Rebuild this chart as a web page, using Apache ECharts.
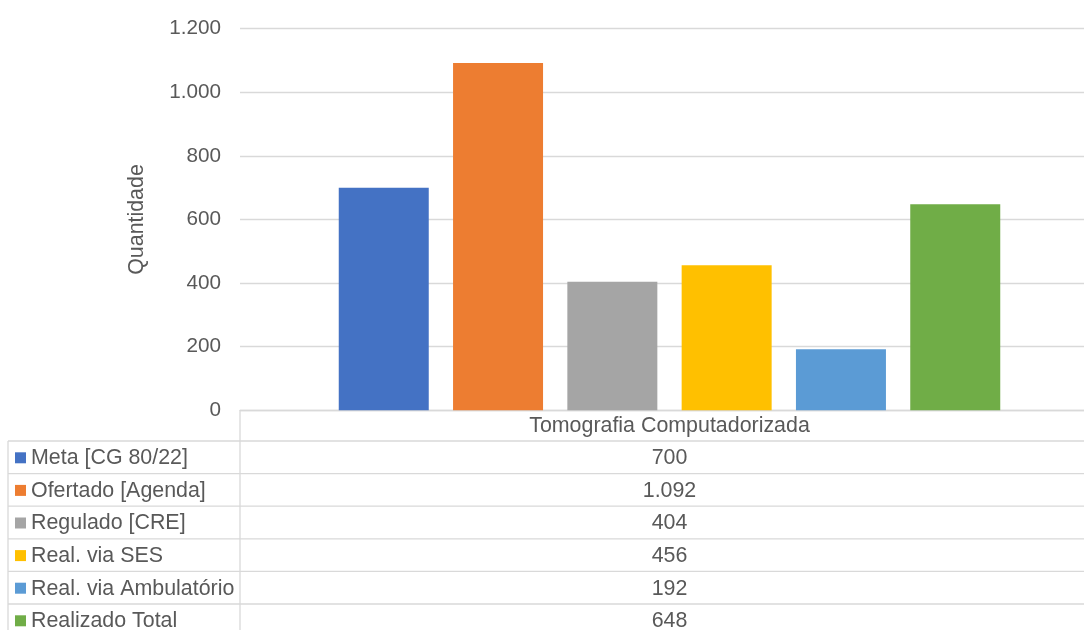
<!DOCTYPE html>
<html>
<head>
<meta charset="utf-8">
<script src="https://cdn.jsdelivr.net/npm/echarts@6/dist/echarts.min.js"></script>
<style>
html,body{margin:0;padding:0;background:#fff;}
#c{width:1084px;height:630px;}
</style>
</head>
<body>
<div id="c"></div>
<script>
const categories = ['Tomografia Computadorizada'];
const seriesNames = ['Meta [CG 80/22]', 'Ofertado [Agenda]', 'Regulado [CRE]', 'Real. via SES', 'Real. via Ambulatório', 'Realizado Total'];
const seriesValues = [700, 1092, 404, 456, 192, 648];
const seriesColors = ['#4472C4', '#ED7D31', '#A5A5A5', '#FFC000', '#5B9BD5', '#70AD47'];
const yTicks = [0, 200, 400, 600, 800, 1000, 1200];

function fmt(v) { return String(v).replace(/\B(?=(\d{3})+(?!\d))/g, '.'); }

const FONT = '"Liberation Sans", Arial, sans-serif';
const TXT = '#595959';
const LINE = '#d9d9d9';
const FS = 21.4;

const chart = echarts.init(document.getElementById('c'));
const gridLeft = 240, gridTop = 28.7, gridWidth = 859, gridHeight = 381.6;

chart.setOption({
  animation: false,
  textStyle: { fontFamily: FONT },
  grid: { left: gridLeft, top: gridTop, width: gridWidth, height: gridHeight, containLabel: false, outerBoundsMode: 'none' },
  xAxis: {
    type: 'category',
    data: categories,
    axisTick: { show: false },
    axisLine: { lineStyle: { color: LINE, width: 1.3 } },
    axisLabel: { color: TXT, fontSize: FS, fontFamily: FONT, verticalAlign: 'middle', margin: 15.5 }
  },
  yAxis: {
    type: 'value',
    min: yTicks[0], max: yTicks[yTicks.length - 1], interval: 200,
    name: 'Quantidade',
    nameLocation: 'middle',
    nameGap: 92,
    nameRotate: 90,
    nameTextStyle: { color: TXT, fontSize: FS, fontFamily: FONT },
    axisLine: { show: false },
    axisTick: { show: false },
    splitLine: { lineStyle: { color: LINE, width: 1.3 } },
    axisLabel: { color: TXT, fontSize: 20.7, fontFamily: FONT, margin: 19, formatter: v => fmt(v) }
  },
  series: seriesNames.map((n, i) => ({
    name: n,
    type: 'bar',
    data: [seriesValues[i]],
    barWidth: 90,
    barGap: '27%',
    itemStyle: { color: seriesColors[i] }
  }))
});

// Data table below the chart
const cx = chart.convertToPixel({ xAxisIndex: 0 }, categories[0]);
const axisY = chart.convertToPixel({ yAxisIndex: 0 }, 0);
const headerBottom = axisY + 30.7;
const rowH = 32.6;
const leftX = 8;
const graphic = [];
const lineStyle = { stroke: LINE, lineWidth: 1.3 };
graphic.push({ type: 'line', shape: { x1: gridLeft, y1: axisY, x2: gridLeft, y2: 700 }, style: lineStyle, silent: true });
graphic.push({ type: 'line', shape: { x1: leftX, y1: headerBottom, x2: leftX, y2: 700 }, style: lineStyle, silent: true });
seriesNames.forEach((n, i) => {
  const top = headerBottom + i * rowH;
  const mid = top + rowH / 2;
  graphic.push({ type: 'line', shape: { x1: leftX, y1: top, x2: 1084, y2: top }, style: lineStyle, silent: true });
  graphic.push({ type: 'rect', shape: { x: 15, y: mid - 5, width: 11, height: 11 }, style: { fill: seriesColors[i] }, silent: true });
  graphic.push({ type: 'text', x: 31, y: mid + 1, style: { text: n, fill: TXT, font: FS + 'px ' + FONT, textVerticalAlign: 'middle', textAlign: 'left' }, silent: true });
  graphic.push({ type: 'text', x: cx, y: mid + 1, style: { text: fmt(seriesValues[i]), fill: TXT, font: FS + 'px ' + FONT, textVerticalAlign: 'middle', textAlign: 'center' }, silent: true });
});
graphic.push({ type: 'line', shape: { x1: leftX, y1: headerBottom + seriesNames.length * rowH, x2: 1084, y2: headerBottom + seriesNames.length * rowH }, style: lineStyle, silent: true });
chart.setOption({ graphic: graphic });
</script>
</body>
</html>
